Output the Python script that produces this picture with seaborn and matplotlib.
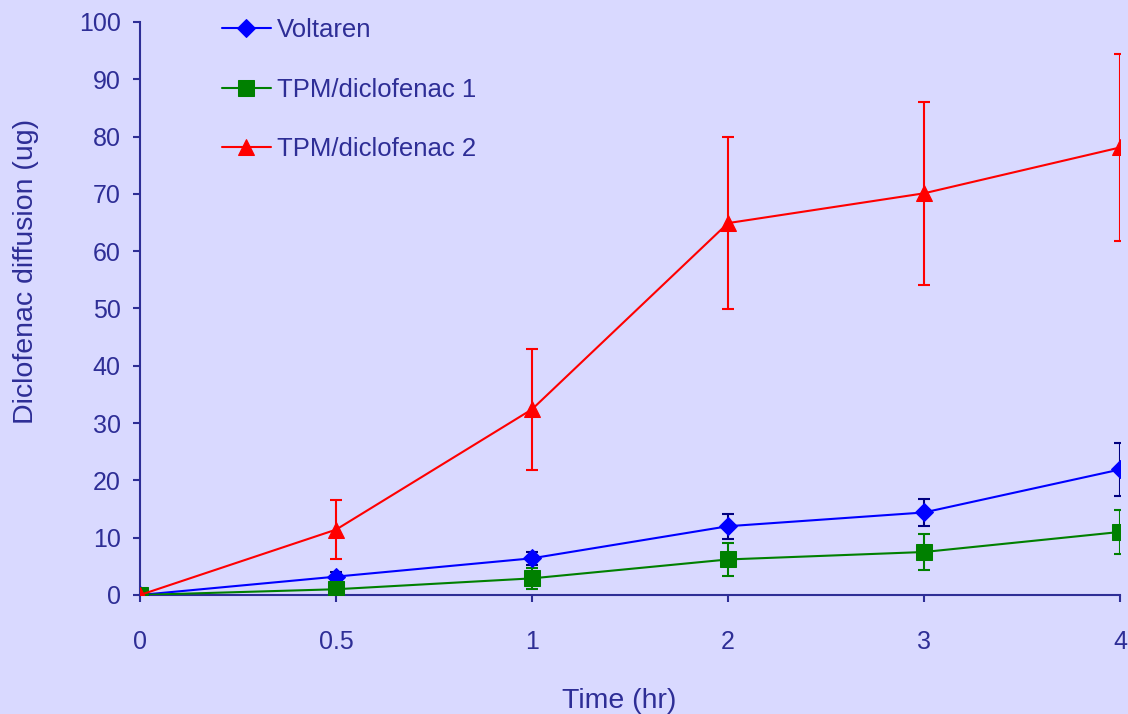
import numpy as np
import pandas as pd
import matplotlib
matplotlib.use("Agg")
import matplotlib.pyplot as plt
import seaborn as sns

# Data
times = ["0", "0.5", "1", "2", "3", "4"]
voltaren = [0, 3.2, 6.4, 12.0, 14.4, 21.9]
voltaren_err = [0, 0.8, 1.1, 2.2, 2.4, 4.7]
tpm1 = [0, 1.0, 2.9, 6.2, 7.5, 11.0]
tpm1_err = [0, 0.5, 1.8, 2.9, 3.2, 3.9]
tpm2 = [0, 11.4, 32.4, 64.9, 70.1, 78.1]
tpm2_err = [0, 5.2, 10.6, 15.0, 16.0, 16.4]

series_names = ["Voltaren", "TPM/diclofenac 1", "TPM/diclofenac 2"]
colors = {"Voltaren": "#0000FF", "TPM/diclofenac 1": "#008000", "TPM/diclofenac 2": "#FF0000"}
err_colors = {"Voltaren": "#000080", "TPM/diclofenac 1": "#008000", "TPM/diclofenac 2": "#FF0000"}
markers = {"Voltaren": "D", "TPM/diclofenac 1": "s", "TPM/diclofenac 2": "^"}

bg = "#D9D9FF"
ink = "#2E2E96"

frames = []
for name, vals, errs in zip(series_names, [voltaren, tpm1, tpm2], [voltaren_err, tpm1_err, tpm2_err]):
    frames.append(pd.DataFrame({"pos": np.arange(len(times)), "value": vals, "err": errs, "series": name}))
df = pd.concat(frames, ignore_index=True)

sns.set_style("ticks", {"axes.facecolor": bg, "figure.facecolor": bg,
                        "axes.edgecolor": ink, "xtick.color": ink, "ytick.color": ink,
                        "text.color": ink, "axes.labelcolor": ink})
plt.rcParams["font.family"] = ["Liberation Sans", "DejaVu Sans"]

fig = plt.figure(figsize=(11.28, 7.14), dpi=100)
ax = fig.add_axes([0.1241, 0.1667, 0.8688, 0.8025])

for name in series_names:
    sub = df[df["series"] == name]
    ax.errorbar(sub["pos"], sub["value"], yerr=sub["err"], fmt="none",
                ecolor=err_colors[name], elinewidth=1.5, capsize=4.5, capthick=1.5, zorder=2)
    sns.lineplot(data=sub, x="pos", y="value", ax=ax, color=colors[name],
                 marker=markers[name], markersize=11 if name != "Voltaren" else 9,
                 markeredgecolor=colors[name], linewidth=1.5, label=name, zorder=3)

ax.set_xlim(0, 5)
ax.set_ylim(0, 100)
ax.set_xticks(np.arange(len(times)))
ax.set_xticklabels(times)
ax.set_yticks(np.arange(0, 101, 10))
ax.tick_params(axis="both", labelsize=18, length=5, width=1.5, colors=ink)
ax.tick_params(axis="x", pad=20)
ax.tick_params(axis="y", pad=9)
for s in ["left", "bottom"]:
    ax.spines[s].set_linewidth(1.5)
    ax.spines[s].set_color(ink)
sns.despine(ax=ax)
ax.spines["bottom"].set_bounds(0, 5)

ax.set_xlabel("Time (hr)", fontsize=20.5)
ax.xaxis.set_label_coords(0.489, -0.163)
ax.set_ylabel("Diclofenac diffusion (ug)", fontsize=20.5)
ax.yaxis.set_label_coords(-0.103, 0.565)

leg = ax.legend(loc="upper left", bbox_to_anchor=(0.06, 1.047), frameon=False,
                fontsize=18.5, labelspacing=1.38, handlelength=1.9, handletextpad=0.25)
for t in leg.get_texts():
    t.set_color(ink)

fig.savefig("out.png", dpi=100, facecolor=bg)
